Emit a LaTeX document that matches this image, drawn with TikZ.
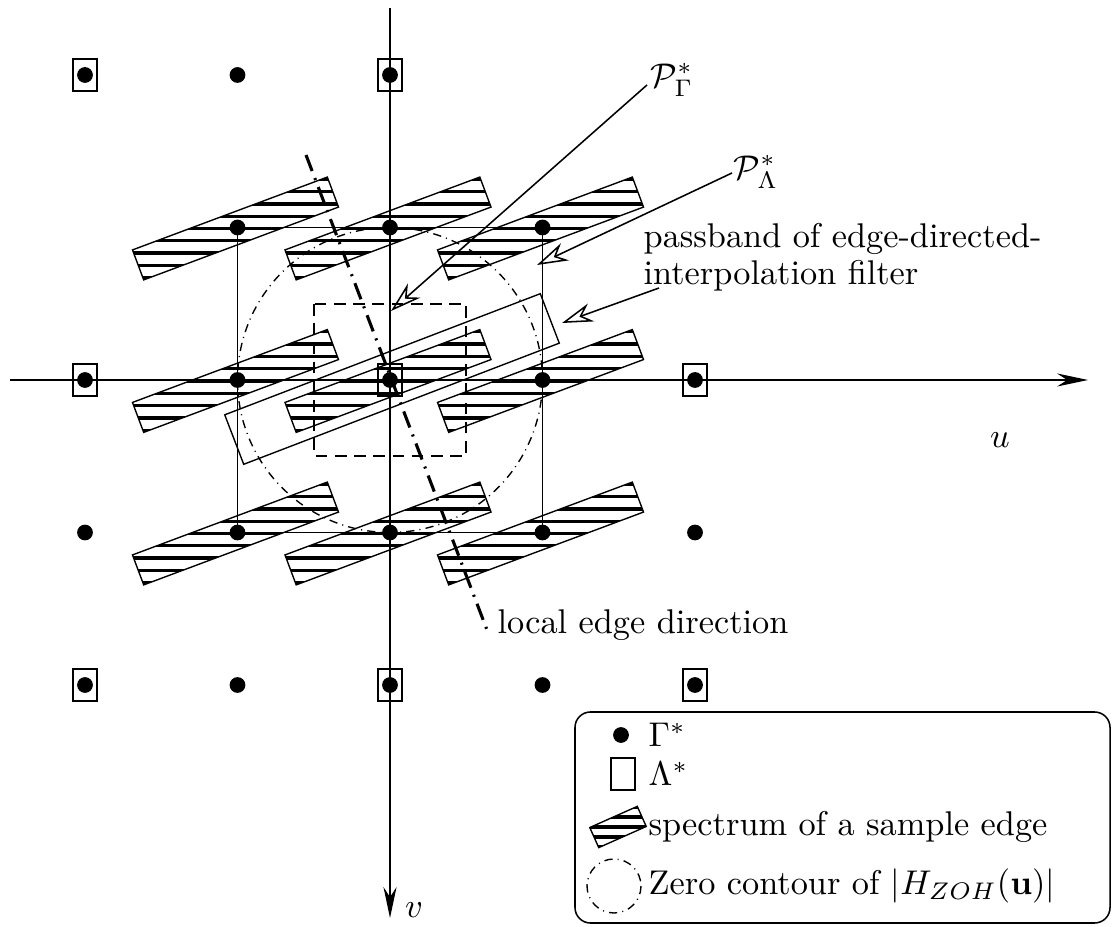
\documentclass[tikz,border=0pt]{standalone}
\usetikzlibrary{arrows.meta}
\begin{document}
\begin{tikzpicture}[x=0.2915pt,y=-0.2915pt,
  thinline/.style={line width=0.4pt},
  hatchline/.style={line width=0.95pt},
  axisline/.style={line width=0.5pt,-{Stealth[length=9pt,width=3.8pt]}},
  pointer/.style={line width=0.45pt,-{Stealth[open,length=9pt,width=5.5pt]}},
  gdot/.style={circle,fill=black,inner sep=0pt,minimum size=4.6pt},
  lsq/.style={draw,line width=0.4pt,inner sep=0pt,minimum width=7pt,minimum height=9.3pt},
  dashdotc/.style={line width=0.4pt,dash pattern=on 2.4pt off 1.5pt on 0.3pt off 1.5pt},
  edgeline/.style={line width=0.9pt,dash pattern=on 5pt off 2.2pt on 0.6pt off 2.2pt},
  dashsq/.style={line width=0.45pt,dash pattern=on 3.4pt off 2.2pt},
  lbl/.style={inner sep=0pt}]
\useasboundingbox (0,0) rectangle (1115,927);

% P*_Lambda square
\draw[thinline] (237.5,227.5) rectangle (542.5,532.5);
% zero contour circle
\draw[dashdotc] (390,380) circle[radius=152.5];
% P*_Gamma dashed square
\draw[dashsq] (314,304) rectangle (466,456);
% passband rectangle
\draw[thinline,rotate around={21:(392,379)}] (223,352.5) rectangle (561,405.5);

% spectra
\foreach \i in {-1,0,1}{
  \foreach \j in {-1,0,1}{
    \begin{scope}[shift={({390+152.5*\i-2},{380+152.5*\j+1})}]
      \begin{scope}
        \clip[rotate=20.5] (-104,-16) rectangle (104,16);
        \foreach \k in {-5,...,5}
          \draw[hatchline] (-115,\k*12.3) -- (115,\k*12.3);
      \end{scope}
      \draw[thinline,rotate=20.5] (-104,-16) rectangle (104,16);
    \end{scope}
  }
}

% axes
\coordinate (uS) at (10,380);
\coordinate (uE) at (1088,380);
\coordinate (vS) at (390,8);
\coordinate (vE) at (390,918);
\draw[axisline] (uS) -- (uE);
\draw[axisline] (vS) -- (vE);
\node[lbl] (ulab) at (1000,440) {$u$};
\node[lbl] (vlab) at (414,910) {$v$};

% local edge direction
\coordinate (eS) at (306,155);
\coordinate (eE) at (487,630);
\draw[edgeline] (eS) -- (eE);
\node[lbl,anchor=base west] (edir) at (497,634) {local edge direction};

% lattice points
\foreach \i/\j in {-2/-2,-1/-2,0/-2,-1/-1,0/-1,1/-1,-2/0,-1/0,0/0,1/0,2/0,-2/1,-1/1,0/1,1/1,2/1,-2/2,-1/2,0/2,1/2,2/2}
  \node[gdot] (d\i\j) at ({390+152.5*\i},{380+152.5*\j}) {};
\foreach \i/\j in {-2/-2,0/-2,-2/0,0/0,2/0,-2/2,0/2,2/2}
  \node[lsq] (s\i\j) at ({390+152.5*\i},{380+152.5*\j}) {};

% labels with pointers
\node[lbl,anchor=west] (PG) at (650,80) {$\mathcal{P}^*_\Gamma$};
\coordinate (PGs) at (647,85);
\coordinate (PGt) at (391,311);
\draw[pointer] (PGs) -- (PGt);

\node[lbl,anchor=west] (PL) at (733,172) {$\mathcal{P}^*_\Lambda$};
\coordinate (PLs) at (732,173);
\coordinate (PLt) at (537,265);
\draw[pointer] (PLs) -- (PLt);

\node[lbl,anchor=base west,align=left,font=\fontsize{10}{10.8}\selectfont] (pb) at (643,285) {passband of edge-directed-\\interpolation filter};
\coordinate (PBs) at (659,288);
\coordinate (PBt) at (562,323);
\draw[pointer] (PBs) -- (PBt);

% legend
\draw[line width=0.45pt,rounded corners=4.5pt] (575,712) rectangle (1110,923);
\node[gdot] (lg1) at (621,735) {};
\node[lbl,anchor=west] (lt1) at (648,735) {$\Gamma^*$};
\node[lsq] (lg2) at (623,774) {};
\node[lbl,anchor=west] (lt2) at (648,774) {$\Lambda^*$};
\begin{scope}[shift={(618,827)}]
  \begin{scope}
    \clip[rotate=24] (-26,-11) rectangle (26,11);
    \foreach \k in {-2,...,2}
      \draw[hatchline] (-40,\k*10) -- (40,\k*10);
  \end{scope}
  \draw[thinline,rotate=24] (-26,-11) rectangle (26,11);
\end{scope}
\node[lbl,anchor=west] (lt3) at (648,827) {spectrum of a sample edge};
\draw[dashdotc] (614,886) circle[radius=27];
\node[lbl,anchor=west] (lt4) at (648,886) {Zero contour of $|H_{ZOH}(\mathbf{u})|$};
\end{tikzpicture}
\end{document}
